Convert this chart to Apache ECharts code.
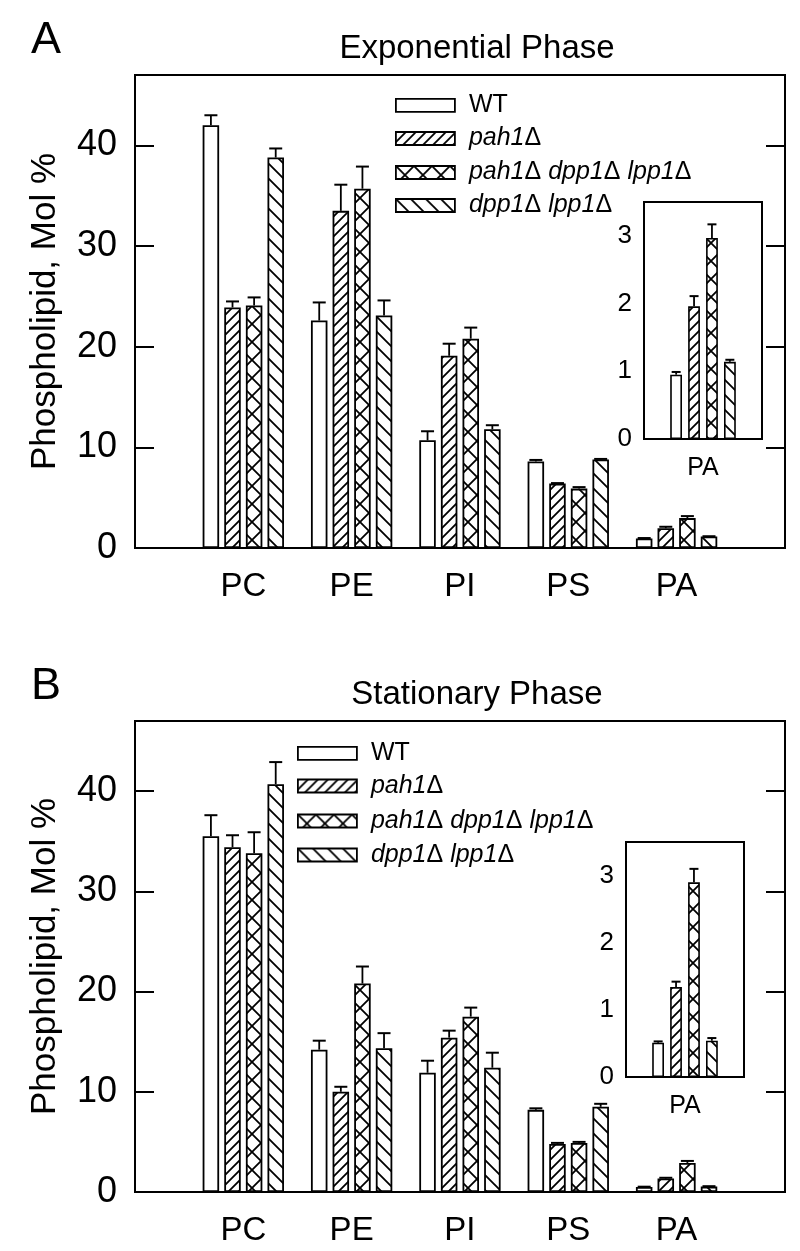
<!DOCTYPE html>
<html><head><meta charset="utf-8">
<script src="https://cdn.jsdelivr.net/npm/echarts@6/dist/echarts.min.js"></script>
<style>html,body{margin:0;padding:0;background:#fff}#c{width:800px;height:1251px}</style>
</head><body><div id="c"></div>
<script>
// ---------- data ----------
const categories = ['PC', 'PE', 'PI', 'PS', 'PA'];
const insetCategory = ['PA'];
const seriesNames = ['WT', 'pah1Δ', 'pah1Δ dpp1Δ lpp1Δ', 'dpp1Δ lpp1Δ'];
const mainYTicks = [0, 10, 20, 30, 40];
const insetYTicks = [0, 1, 2, 3];

// Panel A: Exponential Phase
const wtA = [42.0, 22.6, 10.7, 8.6, 0.95];
const wtAErr = [1.0, 1.8, 0.9, 0.15, 0.04];
const pahA = [23.9, 33.5, 19.1, 6.4, 1.96];
const pahAErr = [0.6, 2.6, 1.2, 0.05, 0.15];
const tripleA = [24.1, 35.7, 20.8, 5.9, 2.97];
const tripleAErr = [0.8, 2.2, 1.1, 0.15, 0.2];
const dppA = [38.8, 23.1, 11.8, 8.8, 1.14];
const dppAErr = [0.9, 1.5, 0.4, 0.05, 0.03];

// Panel B: Stationary Phase
const wtB = [35.5, 14.2, 11.9, 8.2, 0.51];
const wtBErr = [2.1, 0.9, 1.2, 0.15, 0.02];
const pahB = [34.4, 10.0, 15.4, 4.8, 1.34];
const pahBErr = [1.2, 0.5, 0.7, 0.1, 0.08];
const tripleB = [33.8, 20.8, 17.5, 4.9, 2.9];
const tripleBErr = [2.1, 1.7, 0.9, 0.1, 0.2];
const dppB = [40.7, 14.35, 12.4, 8.5, 0.54];
const dppBErr = [2.2, 1.5, 1.5, 0.3, 0.04];

const titles = ['Exponential Phase', 'Stationary Phase'];
const letters = ['A', 'B'];
const yName = 'Phospholipid, Mol %';

// ---------- styling / layout ----------
const FONT = '"Liberation Sans", Arial, Helvetica, sans-serif';
const panels = [
  { vals: [wtA, pahA, tripleA, dppA], errs: [wtAErr, pahAErr, tripleAErr, dppAErr],
    frame: {left: 135, top: 75, width: 650, height: 473},
    bars: {left: 189.15, top: 75, width: 541.6, height: 473},
    inset: {left: 644, top: 202, width: 118, height: 237},
    legendLeft: 395, legendRows: [105.3, 138.5, 172.5, 205.5],
    title: {x: 477, y: 49}, letter: {x: 31, y: 41} },
  { vals: [wtB, pahB, tripleB, dppB], errs: [wtBErr, pahBErr, tripleBErr, dppBErr],
    frame: {left: 135, top: 721, width: 650, height: 471},
    bars: {left: 189.15, top: 721, width: 541.6, height: 471},
    inset: {left: 626, top: 842, width: 118, height: 235},
    legendLeft: 297, legendRows: [753.3, 786, 821, 855],
    title: {x: 477, y: 695}, letter: {x: 31, y: 687} }
];

function makePattern(kind) {
  const c = document.createElement('canvas');
  const s = kind === 'fwd' ? 10 : (kind === 'back' ? 15 : 18);
  c.width = s; c.height = s;
  const g = c.getContext('2d');
  g.fillStyle = '#fff'; g.fillRect(0, 0, s, s);
  g.strokeStyle = '#000'; g.lineWidth = 1.8;
  g.beginPath();
  if (kind === 'fwd' || kind === 'cross') {
    g.moveTo(-1, s + 1); g.lineTo(s + 1, -1);
    g.moveTo(-2, 2); g.lineTo(2, -2);
    g.moveTo(s - 2, s + 2); g.lineTo(s + 2, s - 2);
  }
  if (kind === 'back' || kind === 'cross') {
    g.moveTo(-1, -1); g.lineTo(s + 1, s + 1);
    g.moveTo(-2, s - 2); g.lineTo(2, s + 2);
    g.moveTo(s - 2, -2); g.lineTo(s + 2, 2);
  }
  g.stroke();
  return {image: c, repeat: 'repeat'};
}
const fills = ['#ffffff', makePattern('fwd'), makePattern('cross'), makePattern('back')];

function richName(name) {
  if (name.indexOf('Δ') < 0) return name;
  const parts = name.split('Δ');
  let out = '';
  parts.forEach((p, i) => {
    if (p.length) out += '{i|' + p + '}';
    if (i < parts.length - 1) out += '{n|Δ}';
  });
  return out;
}

const grid = [], xAxis = [], yAxis = [], series = [], legend = [], graphic = [];

panels.forEach((P, pi) => {
  const gFrame = grid.length;
  grid.push(Object.assign({show: true, borderColor: '#000', borderWidth: 2, backgroundColor: 'transparent', outerBoundsMode: 'none', containLabel: false}, P.frame));
  const gBars = grid.length;
  grid.push(Object.assign({show: false, outerBoundsMode: 'none', containLabel: false}, P.bars));
  const gInset = grid.length;
  grid.push(Object.assign({show: true, borderColor: '#000', borderWidth: 2, backgroundColor: '#fff', outerBoundsMode: 'none', containLabel: false, z: 5}, P.inset));

  // frame axes
  xAxis.push({type: 'category', gridIndex: gFrame, data: [''], show: false});
  yAxis.push({type: 'value', gridIndex: gFrame, min: 0, max: 47, position: 'left',
    axisLine: {show: false}, splitLine: {show: false},
    axisTick: {show: true, inside: true, length: 19, lineStyle: {color: '#000', width: 2}, customValues: mainYTicks},
    axisLabel: {show: true, customValues: mainYTicks, fontSize: 36, margin: 18, color: '#000', fontFamily: FONT},
    name: yName, nameLocation: 'middle', nameGap: 72, nameRotate: 90,
    nameTextStyle: {fontSize: 35, color: '#000', fontFamily: FONT}});
  yAxis.push({type: 'value', gridIndex: gFrame, min: 0, max: 47, position: 'right',
    axisLine: {show: false}, splitLine: {show: false},
    axisTick: {show: true, inside: true, length: 19, lineStyle: {color: '#000', width: 2}, customValues: mainYTicks},
    axisLabel: {show: false}});

  // bar axes
  const xBars = xAxis.length;
  xAxis.push({type: 'category', gridIndex: gBars, data: categories,
    axisLine: {show: false}, axisTick: {show: false},
    axisLabel: {fontSize: 33, margin: 22, color: '#000', fontFamily: FONT}});
  const yBars = yAxis.length;
  yAxis.push({type: 'value', gridIndex: gBars, min: 0, max: 47, show: false});

  // inset axes
  const xIn = xAxis.length;
  xAxis.push({type: 'category', gridIndex: gInset, data: insetCategory,
    axisLine: {show: false}, axisTick: {show: false},
    axisLabel: {fontSize: 25, margin: 17, color: '#000', fontFamily: FONT}});
  const yIn = yAxis.length;
  yAxis.push({type: 'value', gridIndex: gInset, min: 0, max: 3.5, position: 'left',
    axisLine: {show: false}, splitLine: {show: false},
    axisTick: {show: true, inside: true, length: 12, lineStyle: {color: '#000', width: 2}, customValues: insetYTicks},
    axisLabel: {show: true, customValues: insetYTicks, fontSize: 26, margin: 12, color: '#000', fontFamily: FONT}});
  yAxis.push({type: 'value', gridIndex: gInset, min: 0, max: 3.5, position: 'right',
    axisLine: {show: false}, splitLine: {show: false},
    axisTick: {show: true, inside: true, length: 12, lineStyle: {color: '#000', width: 2}, customValues: insetYTicks},
    axisLabel: {show: false}});

  // bar series
  P.vals.forEach((arr, k) => {
    series.push({type: 'bar', name: seriesNames[k], xAxisIndex: xBars, yAxisIndex: yBars,
      data: arr, barWidth: 16.5, barGap: '31%', animation: false, silent: true,
      itemStyle: {color: fills[k], borderColor: '#000', borderWidth: 1.8}});
  });
  P.vals.forEach((arr, k) => {
    series.push({type: 'bar', name: seriesNames[k], xAxisIndex: xIn, yAxisIndex: yIn,
      data: [arr[arr.length - 1]], barWidth: 11.8, barGap: '52%', animation: false, silent: true, z: 6,
      itemStyle: {color: fills[k], borderColor: '#000', borderWidth: 1.6}});
  });

  // error bars
  function errSeries(xi, yi, data, step, capW, z) {
    return {type: 'custom', xAxisIndex: xi, yAxisIndex: yi, data: data, z: z, silent: true, animation: false,
      encode: {x: 0, y: 1},
      renderItem: function (params, api) {
        const i = api.value(0), v = api.value(1), e = api.value(2), k = api.value(3);
        const p0 = api.coord([i, v]);
        const p1 = api.coord([i, v + e]);
        const cx = p0[0] + (k - 1.5) * step;
        return {type: 'group', children: [
          {type: 'line', shape: {x1: cx, y1: p0[1], x2: cx, y2: p1[1]}, style: {stroke: '#000', lineWidth: 1.8}},
          {type: 'line', shape: {x1: cx - capW / 2, y1: p1[1], x2: cx + capW / 2, y2: p1[1]}, style: {stroke: '#000', lineWidth: 2}}
        ]};
      }};
  }
  const mainErr = [], inErr = [];
  P.vals.forEach((arr, k) => {
    arr.forEach((v, i) => mainErr.push([i, v, P.errs[k][i], k]));
    const last = arr.length - 1;
    inErr.push([0, arr[last], P.errs[k][last], k]);
  });
  series.push(errSeries(xBars, yBars, mainErr, 21.6, 13, 3));
  series.push(errSeries(xIn, yIn, inErr, 17.9, 9, 7));

  // legends (one per row)
  seriesNames.forEach((nm, k) => {
    legend.push({data: [nm], left: P.legendLeft, top: P.legendRows[k] - 14, orient: 'vertical',
      padding: 0, itemWidth: 59, itemHeight: 13, icon: 'rect', selectedMode: false,
      itemStyle: {borderColor: '#000', borderWidth: 1.8},
      formatter: richName,
      textStyle: {fontSize: 25, lineHeight: 28, color: '#000', fontFamily: FONT, padding: [0, 0, 0, 9],
        rich: {i: {fontSize: 25, lineHeight: 28, fontStyle: 'italic', fontFamily: FONT, color: '#000'},
               n: {fontSize: 25, lineHeight: 28, fontFamily: FONT, color: '#000'}}}});
  });

  graphic.push({type: 'text', x: P.title.x, y: P.title.y, silent: true,
    style: {text: titles[pi], fontSize: 33, fontFamily: FONT, fill: '#000', align: 'center', verticalAlign: 'middle', textAlign: 'center', textVerticalAlign: 'middle'}});
  graphic.push({type: 'text', x: P.letter.x, y: P.letter.y, silent: true,
    style: {text: letters[pi], fontSize: 45, fontFamily: FONT, fill: '#000', align: 'left', verticalAlign: 'middle', textAlign: 'left', textVerticalAlign: 'middle'}});
});

const chart = echarts.init(document.getElementById('c'), null, {renderer: 'canvas'});
chart.setOption({
  animation: false,
  backgroundColor: '#fff',
  grid: grid, xAxis: xAxis, yAxis: yAxis, series: series, legend: legend, graphic: graphic
});
</script>
</body></html>
